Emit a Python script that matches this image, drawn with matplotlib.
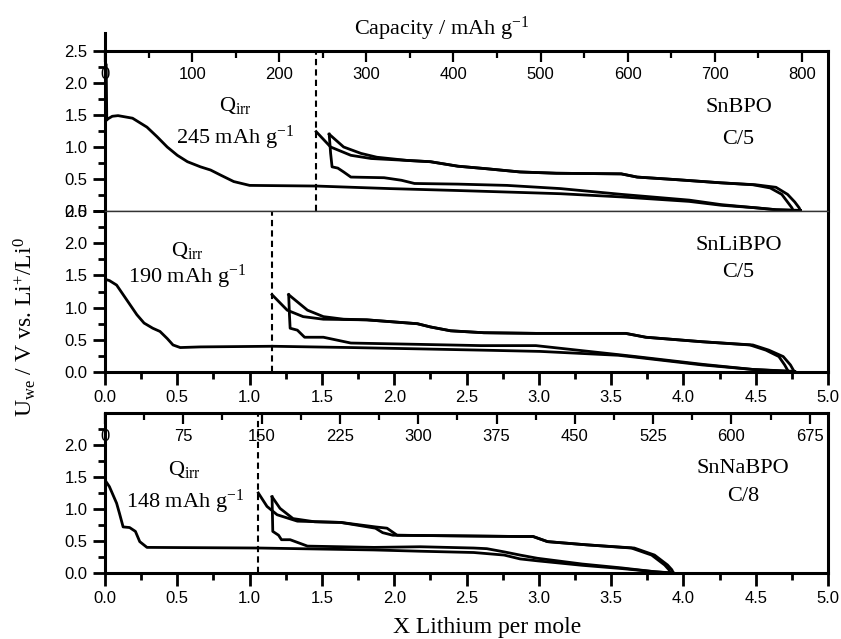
import matplotlib.pyplot as plt
from matplotlib.ticker import MultipleLocator

plt.rcParams["font.family"] = "Liberation Sans"
plt.rcParams["mathtext.fontset"] = "custom"
plt.rcParams["mathtext.rm"] = "Liberation Serif"
plt.rcParams["mathtext.it"] = "Liberation Serif:italic"
plt.rcParams["axes.linewidth"] = 2.2
SERIF = "Liberation Serif"

# ---- SnBPO (C/5) ----
bpo_d1_x = [0.008, 0.012, 0.02, 0.05, 0.09, 0.19, 0.29, 0.36, 0.43, 0.50, 0.57, 0.66, 0.73, 0.80, 0.89, 1.00,
            1.46, 1.97, 2.44, 2.87, 3.15, 3.57, 4.04, 4.26, 4.50, 4.64, 4.81]
bpo_d1_y = [2.28, 1.42, 1.44, 1.48, 1.49, 1.45, 1.31, 1.16, 1.00, 0.87, 0.77, 0.69, 0.64, 0.56, 0.46, 0.40,
            0.39, 0.35, 0.32, 0.29, 0.27, 0.22, 0.15, 0.09, 0.05, 0.02, 0.01]
bpo_c1_x = [4.81, 4.80, 4.77, 4.72, 4.64, 4.50, 4.26, 3.95, 3.68, 3.57, 3.12, 2.87, 2.64, 2.44, 2.25, 2.09,
            1.84, 1.70, 1.56, 1.46]
bpo_c1_y = [0.00, 0.05, 0.14, 0.26, 0.37, 0.41, 0.44, 0.49, 0.53, 0.58, 0.59, 0.61, 0.66, 0.70, 0.77, 0.79,
            0.82, 0.87, 1.00, 1.24]
bpo_d2_x = [1.55, 1.56, 1.57, 1.61, 1.65, 1.70, 1.93, 2.05, 2.14, 2.44, 2.78, 3.15, 3.57, 4.04, 4.26, 4.50,
            4.64, 4.76]
bpo_d2_y = [1.20, 0.90, 0.69, 0.67, 0.61, 0.53, 0.52, 0.48, 0.43, 0.42, 0.40, 0.35, 0.26, 0.17, 0.10, 0.05,
            0.02, 0.01]
bpo_c2_x = [4.76, 4.75, 4.72, 4.68, 4.60, 4.48, 4.26, 3.95, 3.68, 3.57, 3.12, 2.87, 2.64, 2.44, 2.25, 2.09,
            1.88, 1.77, 1.65, 1.55]
bpo_c2_y = [0.00, 0.05, 0.14, 0.26, 0.36, 0.41, 0.44, 0.49, 0.53, 0.58, 0.59, 0.61, 0.66, 0.70, 0.77, 0.79,
            0.84, 0.90, 1.00, 1.20]

# ---- SnLiBPO (C/5) ----
libpo_d1_x = [0.0, 0.03, 0.08, 0.15, 0.22, 0.27, 0.33, 0.38, 0.43, 0.47, 0.52, 0.66, 1.16, 1.70, 2.16, 2.60,
              3.01, 3.55, 3.67, 4.13, 4.48, 4.77]
libpo_d1_y = [1.44, 1.42, 1.35, 1.12, 0.89, 0.76, 0.68, 0.63, 0.52, 0.42, 0.38, 0.39, 0.40, 0.38, 0.36, 0.34,
              0.32, 0.26, 0.23, 0.11, 0.04, 0.01]
libpo_c1_x = [4.77, 4.76, 4.74, 4.69, 4.59, 4.48, 4.13, 3.74, 3.60, 2.98, 2.62, 2.39, 2.25, 2.16, 1.81, 1.51,
              1.37, 1.26, 1.155]
libpo_c1_y = [0.00, 0.03, 0.11, 0.24, 0.34, 0.42, 0.47, 0.54, 0.60, 0.60, 0.61, 0.64, 0.70, 0.75, 0.81, 0.82,
              0.86, 0.96, 1.20]
libpo_d2_x = [1.27, 1.275, 1.28, 1.33, 1.38, 1.51, 1.70, 2.16, 2.60, 2.98, 3.55, 3.67, 4.13, 4.48, 4.73]
libpo_d2_y = [1.20, 0.90, 0.68, 0.65, 0.54, 0.54, 0.45, 0.43, 0.41, 0.41, 0.27, 0.24, 0.12, 0.04, 0.01]
libpo_c2_x = [4.73, 4.72, 4.70, 4.66, 4.57, 4.46, 4.13, 3.74, 3.60, 2.98, 2.62, 2.39, 2.25, 2.16, 1.81, 1.65,
              1.51, 1.40, 1.27]
libpo_c2_y = [0.00, 0.03, 0.11, 0.24, 0.34, 0.42, 0.47, 0.54, 0.60, 0.60, 0.61, 0.64, 0.70, 0.75, 0.81, 0.82,
              0.86, 0.96, 1.20]

# ---- SnNaBPO (C/8) ----
nabpo_d1_x = [0.0, 0.03, 0.08, 0.10, 0.125, 0.17, 0.21, 0.24, 0.29, 1.07, 1.86, 2.18, 2.55, 2.76, 2.87, 2.99,
              3.30, 3.57, 3.80, 3.93]
nabpo_d1_y = [1.45, 1.35, 1.09, 0.93, 0.72, 0.71, 0.65, 0.49, 0.40, 0.39, 0.36, 0.34, 0.32, 0.28, 0.22, 0.19,
              0.12, 0.07, 0.02, 0.00]
nabpo_c1_x = [3.93, 3.92, 3.89, 3.80, 3.66, 3.33, 3.06, 2.96, 2.87, 2.02, 1.95, 1.87, 1.63, 1.33, 1.19, 1.12,
              1.06]
nabpo_c1_y = [0.00, 0.05, 0.125, 0.28, 0.39, 0.44, 0.49, 0.57, 0.57, 0.59, 0.70, 0.72, 0.79, 0.81, 0.91, 1.04,
              1.25]
nabpo_d2_x = [1.155, 1.16, 1.20, 1.22, 1.28, 1.40, 1.86, 2.18, 2.55, 2.64, 2.76, 2.87, 2.99, 3.30, 3.57, 3.80,
              3.91]
nabpo_d2_y = [1.19, 0.65, 0.59, 0.52, 0.52, 0.42, 0.40, 0.41, 0.39, 0.38, 0.33, 0.28, 0.23, 0.14, 0.08, 0.02,
              0.00]
nabpo_c2_x = [3.91, 3.90, 3.87, 3.78, 3.64, 3.33, 3.06, 2.96, 2.87, 1.99, 1.92, 1.87, 1.63, 1.45, 1.30, 1.21,
              1.155]
nabpo_c2_y = [0.00, 0.05, 0.125, 0.28, 0.39, 0.44, 0.49, 0.57, 0.57, 0.59, 0.63, 0.70, 0.79, 0.80, 0.85, 1.01,
              1.19]

samples = ["SnBPO", "SnLiBPO", "SnNaBPO"]
rates = ["C/5", "C/5", "C/8"]
q_irr = [245, 190, 148]
x_irr = [1.46, 1.155, 1.06]
mah_per_li = [166, None, 138.5]   # top capacity axis scale (mAh g-1 per Li)
cap_step = [100, None, 75]

curves = [
    [(bpo_d1_x, bpo_d1_y), (bpo_c1_x, bpo_c1_y), (bpo_d2_x, bpo_d2_y), (bpo_c2_x, bpo_c2_y)],
    [(libpo_d1_x, libpo_d1_y), (libpo_c1_x, libpo_c1_y), (libpo_d2_x, libpo_d2_y), (libpo_c2_x, libpo_c2_y)],
    [(nabpo_d1_x, nabpo_d1_y), (nabpo_c1_x, nabpo_c1_y), (nabpo_d2_x, nabpo_d2_y), (nabpo_c2_x, nabpo_c2_y)],
]

# text anchors (data coords)
q_pos = [(0.90, 1.65, 1.14), (0.57, 1.89, 1.48), (0.55, 1.61, 1.11)]
s_pos = [(4.38, 1.62, 1.11), (4.38, 1.97, 1.54), (4.41, 1.64, 1.19)]

fig = plt.figure(figsize=(8.41, 6.39), dpi=100)
rects = [[0.1249, 0.6698, 0.8597, 0.2504],
         [0.1249, 0.4178, 0.8597, 0.2520],
         [0.1249, 0.1033, 0.8597, 0.2504]]
axes = [fig.add_axes(r) for r in rects]

for i, ax in enumerate(axes):
    for x, y in curves[i]:
        ax.plot(x, y, color="black", lw=2.0, solid_joinstyle="round")
    ax.axvline(x_irr[i], color="black", lw=1.5, ls=(0, (3, 2)))
    ax.set_xlim(0, 5)
    ax.set_ylim(0, 2.5)

    ax.yaxis.set_major_locator(MultipleLocator(0.5))
    ax.yaxis.set_minor_locator(MultipleLocator(0.25))
    ax.tick_params(axis="y", which="major", direction="out", length=9, width=2, labelsize=12)
    ax.tick_params(axis="y", which="minor", direction="out", length=5, width=2)
    ax.xaxis.set_major_locator(MultipleLocator(0.5))
    ax.xaxis.set_minor_locator(MultipleLocator(0.25))
    ax.tick_params(axis="x", which="major", direction="out", length=9, width=2, labelsize=12, pad=4)
    ax.tick_params(axis="x", which="minor", direction="out", length=5, width=2)

    qx, qy1, qy2 = q_pos[i]
    ax.text(qx, qy1, r"Q$_{\mathrm{irr}}$", family=SERIF, fontsize=16, ha="center", va="center")
    ax.text(qx, qy2, str(q_irr[i]) + r" mAh g$^{\mathrm{-1}}$", family=SERIF, fontsize=16,
            ha="center", va="center")
    sx, sy1, sy2 = s_pos[i]
    ax.text(sx, sy1, samples[i], family=SERIF, fontsize=16, ha="center", va="center")
    ax.text(sx, sy2, rates[i], family=SERIF, fontsize=16, ha="center", va="center")

    if mah_per_li[i] is not None:
        tx = ax.twiny()
        tx.set_xlim(0, 5 * mah_per_li[i])
        tx.xaxis.set_major_locator(MultipleLocator(cap_step[i]))
        tx.xaxis.set_minor_locator(MultipleLocator(cap_step[i] / 2))
        tx.tick_params(axis="x", which="major", direction="in", length=8, width=1.6, labelsize=12, pad=-22)
        tx.tick_params(axis="x", which="minor", direction="in", length=5, width=1.6)
        for s in tx.spines.values():
            s.set_visible(False)

# top panel: no bottom x ticks, thin shared boundary
axes[0].tick_params(axis="x", which="both", bottom=False, labelbottom=False)
axes[0].spines["bottom"].set_linewidth(1.0)
axes[0].spines["bottom"].set_color("#333333")
axes[0].spines["left"].set_bounds(0, 2.78)
axes[1].spines["top"].set_linewidth(1.0)
axes[1].spines["top"].set_color("#333333")
axes[2].set_yticks([0, 0.5, 1.0, 1.5, 2.0])
axes[2].set_yticks([0.25, 0.75, 1.25, 1.75, 2.25], minor=True)

fig.text(442 / 841, 1 - 29 / 639, r"Capacity / mAh g$^{\mathrm{-1}}$", family=SERIF, fontsize=16,
         ha="center", va="center")
fig.text(487 / 841, 1 - 628 / 639, "X Lithium per mole", family=SERIF, fontsize=17,
         ha="center", va="center")
fig.text(25 / 841, 1 - 327 / 639, r"U$_{\mathrm{we}}$ / V vs. Li$^{+}$/Li$^{0}$", family=SERIF,
         fontsize=17, rotation=90, ha="center", va="center")

fig.savefig("out.png", dpi=100)
